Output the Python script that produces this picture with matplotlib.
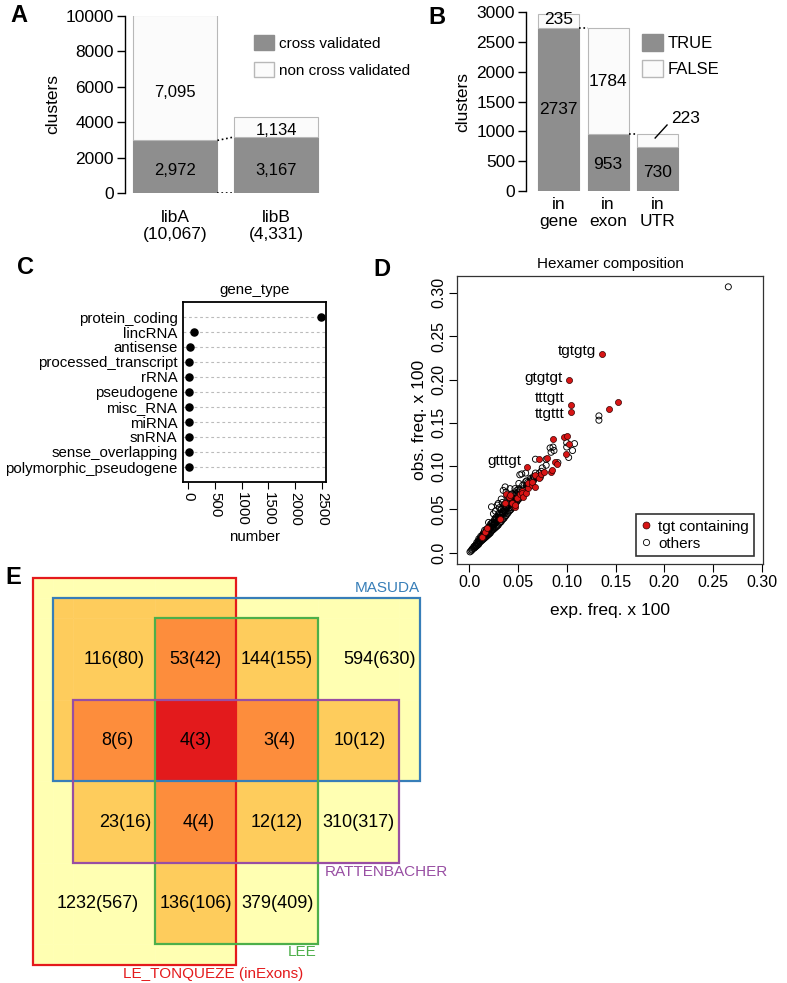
import matplotlib
matplotlib.use("Agg")
from matplotlib import pyplot as plt
from matplotlib.patches import Patch, Rectangle
from matplotlib.lines import Line2D

plt.rcParams['font.family'] = ['Liberation Sans', 'DejaVu Sans']

# --- panel A data
libs = ["libA\n(10,067)", "libB\n(4,331)"]
cross_valid = [2972, 3167]
non_cross = [7095, 1134]

# --- panel B data
locs = ["in\ngene", "in\nexon", "in\nUTR"]
loc_true = [2737, 953, 730]
loc_false = [235, 1784, 223]

# --- panel C data
gene_types = ["protein_coding", "lincRNA", "antisense", "processed_transcript", "rRNA",
              "pseudogene", "misc_RNA", "miRNA", "snRNA", "sense_overlapping",
              "polymorphic_pseudogene"]
gene_counts = [2485, 100, 30, 20, 15, 12, 10, 8, 8, 6, 5]

# --- panel D data (exp. freq, obs. freq)
others_xy = [
    (0.001, 0.001), (0.002, 0.002), (0.003, 0.003), (0.003, 0.004), (0.004, 0.005), (0.005, 0.005),
    (0.005, 0.007), (0.006, 0.006), (0.006, 0.008), (0.007, 0.007), (0.007, 0.009), (0.008, 0.008),
    (0.008, 0.010), (0.008, 0.012), (0.009, 0.009), (0.009, 0.011), (0.010, 0.010), (0.010, 0.013),
    (0.010, 0.016), (0.011, 0.012), (0.011, 0.014), (0.012, 0.013), (0.012, 0.016), (0.012, 0.019),
    (0.013, 0.014), (0.013, 0.017), (0.014, 0.015), (0.014, 0.018), (0.014, 0.021), (0.015, 0.016),
    (0.015, 0.019), (0.016, 0.017), (0.016, 0.020), (0.016, 0.026), (0.017, 0.018), (0.017, 0.022),
    (0.018, 0.019), (0.018, 0.023), (0.018, 0.027), (0.019, 0.020), (0.019, 0.025), (0.020, 0.021),
    (0.020, 0.024), (0.020, 0.029), (0.021, 0.022), (0.021, 0.026), (0.022, 0.023), (0.022, 0.028),
    (0.022, 0.033), (0.023, 0.025), (0.023, 0.030), (0.023, 0.053), (0.024, 0.026), (0.024, 0.029),
    (0.024, 0.035), (0.025, 0.027), (0.025, 0.032), (0.026, 0.028), (0.026, 0.033), (0.026, 0.038),
    (0.027, 0.029), (0.027, 0.034), (0.028, 0.030), (0.028, 0.036), (0.028, 0.041), (0.029, 0.031),
    (0.029, 0.037), (0.029, 0.055), (0.030, 0.032), (0.030, 0.038), (0.030, 0.044), (0.030, 0.057),
    (0.031, 0.034), (0.031, 0.040), (0.032, 0.035), (0.032, 0.041), (0.033, 0.036), (0.033, 0.043),
    (0.033, 0.050), (0.033, 0.062), (0.034, 0.038), (0.034, 0.045), (0.035, 0.039), (0.035, 0.046),
    (0.035, 0.072), (0.036, 0.040), (0.036, 0.048), (0.036, 0.055), (0.037, 0.042), (0.037, 0.050),
    (0.037, 0.076), (0.038, 0.043), (0.038, 0.052), (0.038, 0.070), (0.039, 0.045), (0.039, 0.053),
    (0.040, 0.046), (0.040, 0.055), (0.040, 0.062), (0.041, 0.048), (0.042, 0.049), (0.042, 0.057),
    (0.042, 0.074), (0.043, 0.050), (0.044, 0.052), (0.044, 0.060), (0.045, 0.053), (0.046, 0.055),
    (0.046, 0.063), (0.047, 0.056), (0.048, 0.058), (0.048, 0.066), (0.049, 0.059), (0.049, 0.072),
    (0.050, 0.061), (0.050, 0.070), (0.051, 0.062), (0.052, 0.064), (0.052, 0.072), (0.052, 0.090),
    (0.053, 0.066), (0.054, 0.067), (0.054, 0.091), (0.055, 0.069), (0.055, 0.078), (0.056, 0.070),
    (0.057, 0.072), (0.058, 0.074), (0.058, 0.082), (0.058, 0.092), (0.059, 0.083), (0.060, 0.076),
    (0.061, 0.078), (0.062, 0.079), (0.062, 0.080), (0.063, 0.082), (0.064, 0.085), (0.065, 0.084),
    (0.066, 0.088), (0.067, 0.086), (0.068, 0.092), (0.068, 0.108), (0.070, 0.088), (0.072, 0.092),
    (0.073, 0.087), (0.074, 0.094), (0.075, 0.098), (0.079, 0.108), (0.079, 0.101), (0.083, 0.121),
    (0.084, 0.116), (0.086, 0.122), (0.087, 0.118), (0.091, 0.104), (0.100, 0.122), (0.100, 0.127),
    (0.102, 0.110), (0.106, 0.118), (0.108, 0.126), (0.133, 0.158), (0.133, 0.153), (0.2655, 0.307),
    (0.010, 0.014), (0.012, 0.017), (0.014, 0.020), (0.016, 0.022), (0.018, 0.025), (0.020, 0.027),
    (0.022, 0.030), (0.024, 0.032), (0.026, 0.035), (0.028, 0.038), (0.030, 0.041), (0.032, 0.044),
    (0.034, 0.047), (0.036, 0.050), (0.038, 0.053), (0.040, 0.057), (0.042, 0.060), (0.044, 0.063),
    (0.046, 0.066), (0.048, 0.068), (0.050, 0.066), (0.015, 0.023), (0.019, 0.028), (0.023, 0.034),
    (0.027, 0.040), (0.031, 0.046), (0.035, 0.052), (0.039, 0.058), (0.043, 0.064), (0.047, 0.069),
    (0.051, 0.074), (0.045, 0.058), (0.041, 0.052), (0.037, 0.047), (0.053, 0.069), (0.056, 0.074),
    (0.059, 0.078), (0.060, 0.081), (0.063, 0.086), (0.066, 0.083), (0.020, 0.035), (0.025, 0.045),
    (0.027, 0.048), (0.031, 0.052), (0.034, 0.058), (0.039, 0.066), (0.044, 0.068), (0.047, 0.074),
    (0.051, 0.080),
]
tgt_xy = [
    (0.013, 0.0185), (0.013, 0.0178), (0.0164, 0.0243), (0.0181, 0.0282), (0.0317, 0.0386),
    (0.0369, 0.0577), (0.038, 0.0678), (0.0413, 0.064), (0.042, 0.0666), (0.0437, 0.057),
    (0.047, 0.0524), (0.047, 0.055), (0.0488, 0.0628), (0.0522, 0.0678), (0.054, 0.0716),
    (0.054, 0.0686), (0.0556, 0.0647), (0.0584, 0.0693), (0.0607, 0.0744), (0.0607, 0.0801),
    (0.0642, 0.078), (0.0648, 0.082), (0.0676, 0.0762), (0.0676, 0.0897), (0.0717, 0.0859),
    (0.074, 0.091), (0.0771, 0.0935), (0.0836, 0.0935), (0.0845, 0.0950), (0.0717, 0.1078),
    (0.0795, 0.109), (0.088, 0.1044), (0.0904, 0.1024), (0.0993, 0.1136), (0.0863, 0.131),
    (0.0973, 0.1333), (0.100, 0.1348), (0.1027, 0.1255), (0.143, 0.1656), (0.153, 0.174),
]
hex_labels = ["tgtgtg", "gtgtgt", "tttgtt", "ttgttt", "gtttgt"]
hex_label_xy = [(0.136, 0.230), (0.102, 0.199), (0.104, 0.1705), (0.104, 0.163), (0.0597, 0.0986)]
hex_label_dy = [2, 1.5, 5, -1.5, 4.5]   # vertical nudge of each label, points

# --- panel E data: set extents in grid units (x0, x1, y0, y1), counts per region
venn_sets = ["LE_TONQUEZE (inExons)", "MASUDA", "LEE", "RATTENBACHER"]
venn_rects = [(-0.5, 2, -0.5, 4.25), (-0.25, 4.25, -0.25, 2), (1, 3, 0, 4), (0, 4, 1, 3)]
venn_colors = ["#E41A1C", "#377EB8", "#4DAF4A", "#984EA3"]
venn_counts = ["116(80)", "53(42)", "144(155)", "594(630)",
               "8(6)", "4(3)", "3(4)", "10(12)",
               "23(16)", "4(4)", "12(12)", "310(317)",
               "1232(567)", "136(106)", "379(409)"]
venn_count_pos = [(0.5, 0.5), (1.5, 0.5), (2.5, 0.5), (3.76, 0.5),
                  (0.54, 1.5), (1.5, 1.5), (2.53, 1.5), (3.51, 1.5),
                  (0.64, 2.5), (1.54, 2.5), (2.49, 2.5), (3.5, 2.5),
                  (0.3, 3.5), (1.51, 3.5), (2.51, 3.5)]
venn_fill = ["#FFFFB2", "#FECC5C", "#FD8D3C", "#E31A1C"]

W, H = 787, 983
GREY = "#8E8E8E"
LIGHT = "#FBFBFB"
LIGHT_EDGE = "#B8B8B8"

fig = plt.figure(figsize=(W / 100, H / 100), dpi=100)


def add_ax(l, t, r, b):
    return fig.add_axes([l / W, 1 - b / H, (r - l) / W, (b - t) / H])


def r_style_left(ax):
    for s in ("top", "right", "bottom"):
        ax.spines[s].set_visible(False)
    ax.spines["left"].set_linewidth(1)
    ax.tick_params(axis="y", direction="out", length=6, width=1, labelsize=12.5, pad=2)
    ax.tick_params(axis="x", length=0, labelsize=12.5, pad=12)


# ---------------- A
axA = add_ax(125, 16, 335, 193)
posA = [0.7, 1.9]
axA.bar(posA, cross_valid, width=1, color=GREY, edgecolor=GREY, lw=0.8)
axA.bar(posA, non_cross, bottom=cross_valid, width=1, color=LIGHT, edgecolor=LIGHT_EDGE, lw=0.8)
axA.plot([1.2, 1.4], [cross_valid[0], cross_valid[1]], ls=":", color="black", lw=1.2)
axA.plot([1.2, 1.4], [0, 0], ls=":", color="black", lw=1.2)
axA.set_xlim(0.1, 2.6)
axA.set_ylim(0, 10000)
axA.set_yticks(range(0, 10001, 2000))
axA.set_xticks(posA)
axA.set_xticklabels(libs)
axA.set_ylabel("clusters", fontsize=12.5, labelpad=4)
r_style_left(axA)
textA_y = [(1243, 5706), (1243, 3559)]
for p, cv, nc, (yc, yn) in zip(posA, cross_valid, non_cross, textA_y):
    axA.text(p, yc, f"{cv:,}", ha="center", va="center", fontsize=12)
    axA.text(p, yn, f"{nc:,}", ha="center", va="center", fontsize=12)
axA.legend(handles=[Patch(facecolor=GREY, edgecolor=GREY, label="cross validated"),
                    Patch(facecolor=LIGHT, edgecolor=LIGHT_EDGE, label="non cross validated")],
           loc="upper left", bbox_to_anchor=(254 / W, 1 - 35 / H), bbox_transform=fig.transFigure,
           frameon=False, fontsize=11, handlelength=1.3, handleheight=1.15,
           labelspacing=0.75, handletextpad=0.35, borderpad=0, borderaxespad=0)

# ---------------- B
axB = add_ax(526, 12, 690, 191)
posB = [0.7, 1.9, 3.1]
axB.bar(posB, loc_true, width=1, color=GREY, edgecolor=GREY, lw=0.8)
axB.bar(posB, loc_false, bottom=loc_true, width=1, color=LIGHT, edgecolor=LIGHT_EDGE, lw=0.8)
axB.plot([1.2, 1.4], [loc_true[0], loc_true[0]], ls=":", color="black", lw=1.2)
axB.plot([2.4, 2.6], [loc_true[1], loc_true[1]], ls=":", color="black", lw=1.2)
axB.set_xlim(-0.1, 3.9)
axB.set_ylim(0, 3000)
axB.set_yticks(range(0, 3001, 500))
axB.set_xticks(posB)
axB.set_xticklabels(locs)
axB.set_ylabel("clusters", fontsize=12.5, labelpad=4)
r_style_left(axB)
axB.tick_params(axis="x", pad=4)
textB_y = [(1360, 2880), (450, 1830), (307, None)]
for p, t, f, (yt, yf) in zip(posB, loc_true, loc_false, textB_y):
    axB.text(p, yt, str(t), ha="center", va="center", fontsize=12.5)
    if yf is not None:
        axB.text(p, yf, str(f), ha="center", va="center", fontsize=12.5)
axB.plot([3.05, 3.34], [888, 1106], color="black", lw=1)
axB.text(3.44, 1223, str(loc_false[2]), ha="left", va="center", fontsize=12.5)
axB.legend(handles=[Patch(facecolor=GREY, edgecolor=GREY, label="TRUE"),
                    Patch(facecolor=LIGHT, edgecolor=LIGHT_EDGE, label="FALSE")],
           loc="upper left", bbox_to_anchor=(642 / W, 1 - 34 / H), bbox_transform=fig.transFigure,
           frameon=False, fontsize=12, handlelength=1.25, handleheight=1.2,
           labelspacing=0.55, handletextpad=0.3, borderpad=0, borderaxespad=0)

# ---------------- C
axC = add_ax(183, 302, 326, 482)
ypos = list(range(len(gene_types), 0, -1))
axC.set_xlim(-99, 2579)
axC.set_ylim(0, len(gene_types) + 1)
axC.hlines(ypos, -99, 2579, colors="#BBBBBB", linestyles=(0, (2.5, 2.5)), lw=0.8)
axC.scatter(gene_counts, ypos, s=26, color="black", zorder=3)
axC.set_yticks(ypos)
axC.set_yticklabels(gene_types)
axC.set_xticks(range(0, 2501, 500))
axC.set_xticklabels([str(v) for v in range(0, 2501, 500)], rotation=-90)
axC.tick_params(axis="y", length=0, labelsize=10.8, pad=4)
axC.tick_params(axis="x", direction="out", length=5, labelsize=10.8, pad=2)
for s in axC.spines.values():
    s.set_linewidth(1.3)
axC.set_title("gene_type", fontsize=10.8, pad=6)
axC.set_xlabel("number", fontsize=10.8, labelpad=3)

# ---------------- D
axD = add_ax(457, 276, 763, 564)
axD.scatter([p[0] for p in others_xy], [p[1] for p in others_xy], s=19,
            facecolors="none", edgecolors="black", linewidths=0.65)
axD.scatter([p[0] for p in tgt_xy + hex_label_xy], [p[1] for p in tgt_xy + hex_label_xy], s=19,
            facecolors="#D81515", edgecolors="#330000", linewidths=0.5, zorder=3)
for lab, (x, y), dy in zip(hex_labels, hex_label_xy, hex_label_dy):
    axD.annotate(lab, (x, y), xytext=(-4, dy), textcoords="offset points",
                 ha="right", va="center", fontsize=11)
axD.set_xlim(-0.0123, 0.301)
axD.set_ylim(-0.013, 0.3195)
ticksD = [0, 0.05, 0.10, 0.15, 0.20, 0.25, 0.30]
tick_labD = ["0.0", "0.05", "0.10", "0.15", "0.20", "0.25", "0.30"]
axD.set_xticks(ticksD)
axD.set_xticklabels(tick_labD)
axD.set_yticks(ticksD)
axD.set_yticklabels(tick_labD, rotation=90, va="center")
axD.tick_params(direction="out", length=6, width=0.8, labelsize=11.5, pad=2)
for s in axD.spines.values():
    s.set_linewidth(0.9)
    s.set_color("#333333")
axD.set_title("Hexamer composition", fontsize=11, pad=6)
axD.set_xlabel("exp. freq. x 100", fontsize=12.5, labelpad=9)
axD.set_ylabel("obs. freq. x 100", fontsize=12.5, labelpad=3)
legD = axD.legend(handles=[Line2D([], [], ls="none", marker="o", markersize=5,
                                  markerfacecolor="#D81515", markeredgecolor="#330000",
                                  markeredgewidth=0.5, label="tgt containing"),
                           Line2D([], [], ls="none", marker="o", markersize=4.5,
                                  markerfacecolor="none", markeredgecolor="black",
                                  markeredgewidth=0.6, label="others")],
                  loc="lower right", bbox_to_anchor=(754 / W, 1 - 556 / H),
                  bbox_transform=fig.transFigure, fontsize=11, fancybox=False,
                  handlelength=0.7, handletextpad=0.4, borderpad=0.35, labelspacing=0.2,
                  borderaxespad=0)
legD.get_frame().set_edgecolor("black")
legD.get_frame().set_linewidth(1.2)

# ---------------- E
axE = add_ax(0, 560, 460, 983)
axE.set_xlim((0 - 73.3) / 81.5, (460 - 73.3) / 81.5)
axE.set_ylim((983 - 618.3) / 81.5, (560 - 618.3) / 81.5)
axE.axis("off")
xs = sorted({v for r in venn_rects for v in r[:2]})
ys = sorted({v for r in venn_rects for v in r[2:]})
for i in range(len(xs) - 1):
    for j in range(len(ys) - 1):
        cx = (xs[i] + xs[i + 1]) / 2
        cy = (ys[j] + ys[j + 1]) / 2
        n = sum(1 for r in venn_rects if r[0] < cx < r[1] and r[2] < cy < r[3])
        if n:
            c = venn_fill[n - 1]
            axE.add_patch(Rectangle((xs[i], ys[j]), xs[i + 1] - xs[i], ys[j + 1] - ys[j],
                                    facecolor=c, edgecolor=c, lw=0.4))
for r, col in zip(venn_rects, venn_colors):
    axE.add_patch(Rectangle((r[0], r[2]), r[1] - r[0], r[3] - r[2], fill=False,
                            edgecolor=col, lw=1.6, zorder=3))
for lab, (x, y) in zip(venn_counts, venn_count_pos):
    axE.text(x, y, lab, ha="center", va="center", fontsize=13, zorder=4)
set_label_pos = [(1.71, 4.36, "center"), (4.25, -0.372, "right"),
                 (2.98, 4.10, "right"), (3.09, 3.11, "left")]
for lab, col, (x, y, ha) in zip(venn_sets, venn_colors, set_label_pos):
    axE.text(x, y, lab, ha=ha, va="center", fontsize=11, color=col)

# panel letters
for letter, (x, y) in zip("ABCDE", [(10, 15), (428, 18), (17, 268), (373, 269), (5, 578)]):
    fig.text(x / W, 1 - y / H, letter, fontsize=17, fontweight="bold", va="center", ha="left")

fig.savefig("out.png", dpi=100)
